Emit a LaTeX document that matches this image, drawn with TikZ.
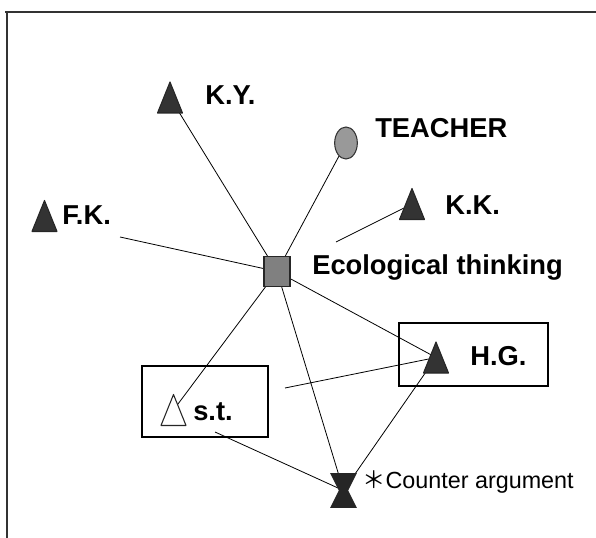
\documentclass[tikz,border=0pt]{standalone}
\usepackage{fontspec}
\setmainfont{Liberation Sans}
\newfontfamily\cjk{Noto Sans CJK JP}
\usetikzlibrary{shapes.geometric}

% a member: a triangle round a named coordinate
\newcommand{\member}[2][black!80]{%
  \filldraw[fill=#1,draw=black!85,line width=0.8pt,line join=round]
    ([shift={(-12.5,15.5)}]#2) -- ([shift={(0,-15.5)}]#2) -- ([shift={(12.5,15.5)}]#2) -- cycle;}

\begin{document}
\begin{tikzpicture}[x=0.75pt,y=-0.75pt,
  tag/.style={anchor=base west,inner sep=0pt,font=\bfseries\fontsize{20.5}{24}\selectfont},
  link/.style={line width=0.6pt},
  group/.style={line width=1.5pt}]
  \useasboundingbox (0,0) rectangle (596,538);
  \draw[line width=2pt,black!80] (5,12) -- (596,12);
  \draw[line width=2pt,black!80] (7,12) -- (7,538);
  % groups
  \draw[group] (399,323) rectangle (548,386);
  \draw[group] (142,366) rectangle (268,437);
  % places
  \coordinate (ky) at (170,97.5);
  \coordinate (kk) at (412,204);
  \coordinate (fk) at (44.5,216);
  \coordinate (hg) at (436,357.5);
  \coordinate (st) at (173.5,410);
  \coordinate (teacher) at (346,143);
  \coordinate (eco) at (277,271.5);
  \coordinate (ca) at (343.5,490.5);
  \coordinate (kkend) at (336,242);
  \coordinate (fkend) at (120,237);
  \coordinate (stright) at (285,388);
  \coordinate (stbottom) at (215,432);
  % links
  \draw[link] (ky) -- (eco);
  \draw[link] (teacher) -- (eco);
  \draw[link] (kk) -- (kkend);
  \draw[link] (fkend) -- (eco);
  \draw[link] (eco) -- (st);
  \draw[link] (eco) -- (ca);
  \draw[link] (eco) -- (hg);
  \draw[link] (stright) -- (hg);
  \draw[link] (stbottom) -- (ca);
  \draw[link] (hg) -- (ca);
  % members
  \member{ky}
  \member{kk}
  \member{fk}
  \member{hg}
  \member[white]{st}
  \node[ellipse,minimum width=17pt,minimum height=24pt,inner sep=0pt,
    fill=black!40,draw=black!80,line width=0.8pt] (teachermark) at (teacher) {};
  \node[minimum width=19.5pt,minimum height=23pt,inner sep=0pt,
    fill=black!50,draw=black!85,line width=0.8pt] (ecomark) at (eco) {};
  \node[minimum width=20pt,minimum height=26pt,inner sep=0pt,
    path picture={\fill[black!85] (path picture bounding box.north west)
      -- (path picture bounding box.north east)
      -- ([xshift=3.5pt]path picture bounding box.center)
      -- (path picture bounding box.south east)
      -- (path picture bounding box.south west)
      -- ([xshift=-3.5pt]path picture bounding box.center) -- cycle;}] (camark) at (ca) {};
  % labels
  \node[tag] (kyl) at (205,105) {K.Y.};
  \node[tag] (teacherl) at (375,138) {TEACHER};
  \node[tag] (kkl) at (445,215) {K.K.};
  \node[tag] (fkl) at (62,225) {F.K.};
  \node[tag] (ecol) at (312,275) {Ecological thinking};
  \node[tag] (hgl) at (470,365) {H.G.};
  \node[tag] (stl) at (193,420) {s.t.};
  \node[anchor=base west,inner sep=0pt,font=\fontsize{17.5}{20}\selectfont] (cal) at (362,488)
    {{\cjk ＊}Counter argument};
\end{tikzpicture}
\end{document}
